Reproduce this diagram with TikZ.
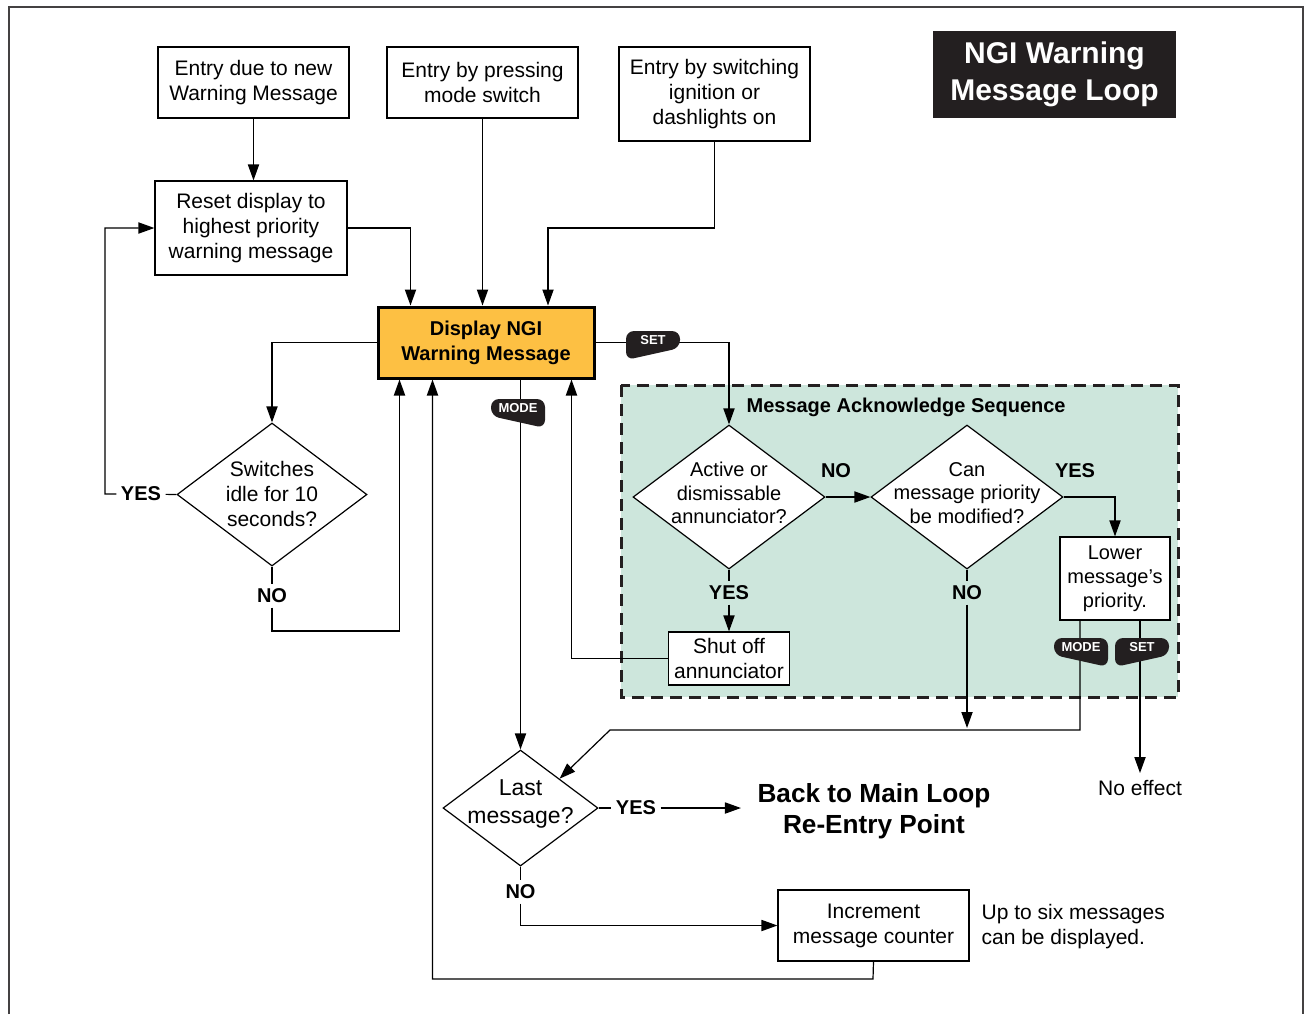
\documentclass[tikz,border=0pt]{standalone}
\usepackage{fontspec}
\setmainfont{Liberation Sans}
\usetikzlibrary{arrows.meta,shapes.geometric}
\definecolor{ngiorange}{HTML}{FDC043}
\definecolor{ackgreen}{HTML}{CDE6DC}
\definecolor{ngiblack}{HTML}{231F20}
\newcommand{\keytag}[5]{%
  \fill[ngiblack, rounded corners=4pt, shift={(#2,#3)}, xscale=#4]
    (-27,-9) -- (27,-9) -- (27,8) -- (-27,20) -- cycle;
  \node[tagtext] (#1) at (#2,#3) {#5};}

\begin{document}
\begin{tikzpicture}[x=0.5pt, y=-0.5pt, line width=0.6pt,
    >={Triangle[length=8pt,width=5.6pt]},
    box/.style={draw, fill=white, align=center, inner sep=0pt,
        font=\fontsize{10.5}{12.5}\selectfont},
    decision/.style={draw, diamond, fill=white, inner sep=0pt},
    dtext/.style={align=center, inner sep=0pt, font=\fontsize{10.5}{12.5}\selectfont},
    answer/.style={inner sep=2pt, font=\bfseries\fontsize{10}{12}\selectfont},
    tagtext/.style={text=white, inner sep=0pt, font=\bfseries\fontsize{6.5}{7}\selectfont}]
    \useasboundingbox (0,0) rectangle (1307,1014);
    \draw[line width=1.2pt, ngiblack!85] (9,1014) -- (9,7) -- (1303,7) -- (1303,1014);

    \filldraw[fill=ackgreen, draw=ngiblack, line width=1.5pt, dash pattern=on 6pt off 3.5pt]
        (621,385) rectangle (1178,697);
    \node[anchor=west, inner sep=0pt, font=\bfseries\fontsize{10}{12}\selectfont] (acklabel)
        at (746,407) {Message Acknowledge Sequence};

    \node[box, minimum width=95.5pt, minimum height=35.5pt] (newmsg) at (253.5,82.5)
        {Entry due to new\\Warning Message};
    \node[box, minimum width=95.5pt, minimum height=35.5pt] (modesw) at (482.5,82.5)
        {Entry by pressing\\mode switch};
    \node[box, minimum width=95.5pt, minimum height=47pt] (ignition) at (714.5,94)
        {Entry by switching\\ignition or\\dashlights on};
    \node[fill=ngiblack, text=white, align=center, minimum width=121.5pt, minimum height=43.5pt,
        font=\bfseries\fontsize{15}{18.5}\selectfont] (title) at (1054.5,74.5)
        {NGI Warning\\Message Loop};
    \node[box, minimum width=96pt, minimum height=47pt] (reset) at (251,228)
        {Reset display to\\highest priority\\warning message};
    \node[box, fill=ngiorange, line width=1.5pt, minimum width=108pt, minimum height=35.5pt,
        font=\bfseries\fontsize{10}{12.5}\selectfont] (display) at (486,342.5)
        {Display NGI\\Warning Message};

    \node[decision, minimum width=95pt, minimum height=71.5pt] (idle) at (272,494.5) {};
    \node[dtext] (idletext) at ([yshift=0.5pt]idle) {Switches\\idle for 10\\seconds?};
    \node[decision, minimum width=96pt, minimum height=72pt] (active) at (729,497) {};
    \node[dtext, font=\fontsize{10}{11.75}\selectfont] (activetext) at ([yshift=2pt]active)
        {Active or\\dismissable\\annunciator?};
    \node[decision, minimum width=96pt, minimum height=72pt] (modify) at (967,497) {};
    \node[dtext, font=\fontsize{10}{11.75}\selectfont] (modifytext) at ([yshift=2pt]modify)
        {Can\\message priority\\be modified?};
    \node[box, minimum width=55pt, minimum height=41.5pt, font=\fontsize{10}{12}\selectfont]
        (lower) at (1115,578.5) {Lower\\message’s\\priority.};
    \node[box, minimum width=60.5pt, minimum height=26.5pt] (shutoff) at (729,658.5)
        {Shut off\\annunciator};
    \node[decision, minimum width=77.5pt, minimum height=58pt] (last) at (520.5,808) {};
    \node[dtext, font=\fontsize{11.5}{14}\selectfont] (lasttext) at ([yshift=2pt]last)
        {Last\\message?};
    \node[align=center, inner sep=8pt, font=\bfseries\fontsize{13.1}{15.5}\selectfont]
        (mainloop) at (874,811) {Back to Main Loop\\Re-Entry Point};
    \node[box, minimum width=95.5pt, minimum height=35.5pt] (counter) at (873.5,925.5)
        {Increment\\message counter};
    \node[anchor=west, align=left, inner sep=0pt, font=\fontsize{10.5}{12.5}\selectfont]
        (note) at (981,927) {Up to six messages\\can be displayed.};
    \node[font=\fontsize{10.5}{12.5}\selectfont] (noeffect) at (1140,788) {No effect};

    \node[answer] (idleyes) at (141,494) {YES};
    \node[answer] (idleno) at (272,596) {NO};
    \node[answer] (activeno) at (836,471) {NO};
    \node[answer] (activeyes) at (729,593) {YES};
    \node[answer] (modifyyes) at (1075,471) {YES};
    \node[answer] (modifyno) at (967,593) {NO};
    \node[answer] (lastyes) at (636,808) {YES};
    \node[answer] (lastno) at (520.5,892) {NO};

    \coordinate (ignbend) at (548,228);
    \coordinate (idlebend) at (105,494);
    \coordinate (nobend) at (272,631);
    \coordinate (modebend) at (610,730);
    \coordinate (modifyend) at (967,728);
    \coordinate (loopbend) at (873,979);

    \draw[->] (newmsg) -- (newmsg |- reset.north);
    \draw[->] (reset.east) -| ([xshift=17pt]display.north west);
    \draw[->] (modesw) -- (modesw |- display.north);
    \draw[->] (ignition) |- (ignbend) -- (ignbend |- display.north);
    \draw[->] (display.west) -| (idle.north);
    \draw[->] (idle.west) -- (idleyes) -- (idlebend) |- (reset.west);
    \draw[->] (idle.south) -- (idleno) -- (nobend) -| ([xshift=11.5pt]display.south west);
    \draw[->] (counter.south) -- (loopbend) -| ([xshift=28pt]display.south west);
    \draw[->] (shutoff.west) -| ([xshift=-12pt]display.south east);
    \draw[->] (last.north |- display.south) -- (last.north);
    \draw[->] (display.east) -| (active.north);
    \draw[->] (active.east) -- (modify.west);
    \draw[->] (modify.east) -| (lower.north);
    \draw[->] (active.south) -- (activeyes) -- (shutoff.north);
    \draw[->] (modify.south) -- (modifyno) -- (modifyend);
    \draw[->] ([xshift=-17.5pt]lower.south) |- (modebend) -- (last.north east);
    \draw[->] ([xshift=12.5pt]lower.south) -- (noeffect.north);
    \draw[->] (last.east) -- (lastyes) -- (lastyes -| mainloop.west);
    \draw[->] (last.south) -- (lastno) |- (counter.west);

    \keytag{settag}{653}{340}{1}{SET}
    \keytag{modetag}{518}{408}{-1}{MODE}
    \keytag{lowermode}{1081}{647}{-1}{MODE}
    \keytag{lowerset}{1142}{647}{1}{SET}
\end{tikzpicture}
\end{document}
